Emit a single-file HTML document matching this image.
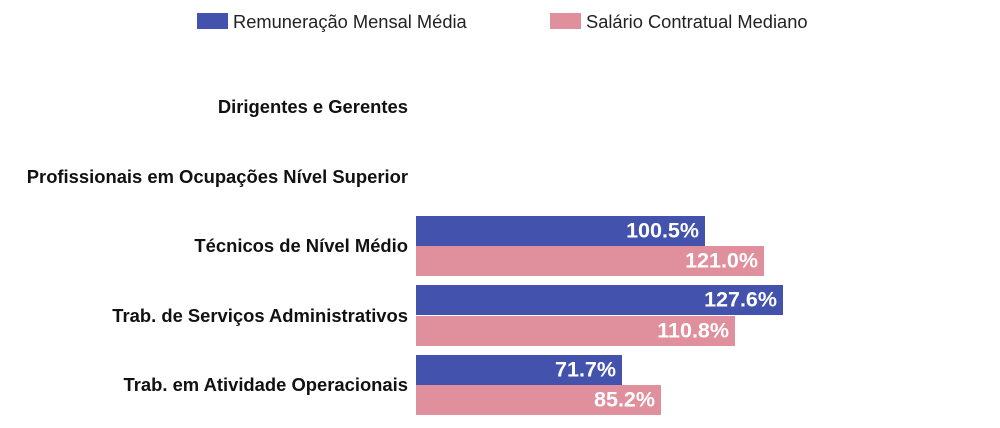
<!DOCTYPE html>
<html><head><meta charset="utf-8"><style>
body{margin:0;width:1000px;height:428px;background:#fff;position:relative;font-family:"Liberation Sans",sans-serif;overflow:hidden}
.a{position:absolute}
.cat{position:absolute;right:592px;font-weight:bold;font-size:18.4px;color:#111;white-space:nowrap;transform:translateY(-50%)}
.b{position:absolute;left:416px;height:30px}
.bl{background:#4353ad}.pk{background:#e0909c}
.v{position:absolute;right:6px;top:50%;transform:translateY(-50%);color:#fff;font-weight:bold;font-size:21.5px}
.lg{position:absolute;top:11px;font-size:18.3px;color:#222}
</style></head><body>
<div class="a bl" style="left:197px;top:13px;width:31px;height:16px"></div>
<div class="lg" style="left:233px">Remuneração Mensal Média</div>
<div class="a pk" style="left:550px;top:13px;width:31px;height:16px"></div>
<div class="lg" style="left:586px">Salário Contratual Mediano</div>

<div class="cat" style="top:107px">Dirigentes e Gerentes</div>
<div class="cat" style="top:177px">Profissionais em Ocupações Nível Superior</div>
<div class="cat" style="top:246px">Técnicos de Nível Médio</div>
<div class="cat" style="top:316px">Trab. de Serviços Administrativos</div>
<div class="cat" style="top:385px">Trab. em Atividade Operacionais</div>

<div class="b bl" style="top:216px;width:289px"><span class="v">100.5%</span></div>
<div class="b pk" style="top:246px;width:348px"><span class="v">121.0%</span></div>
<div class="b bl" style="top:285px;width:367px"><span class="v">127.6%</span></div>
<div class="b pk" style="top:316px;width:319px"><span class="v">110.8%</span></div>
<div class="b bl" style="top:355px;width:206px"><span class="v">71.7%</span></div>
<div class="b pk" style="top:385px;width:245px"><span class="v">85.2%</span></div>
</body></html>
